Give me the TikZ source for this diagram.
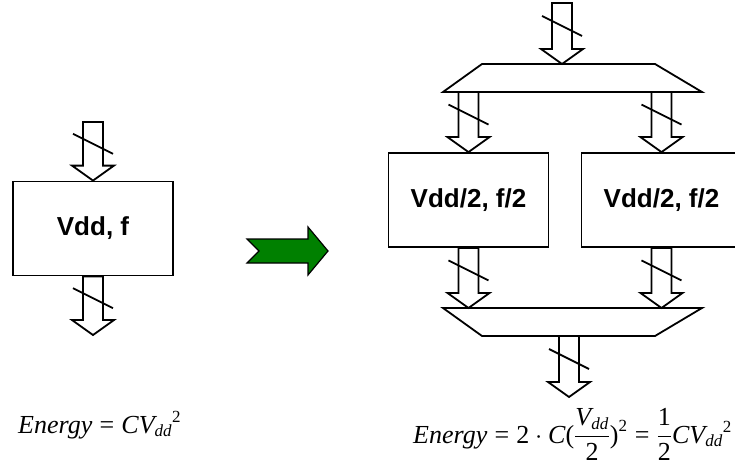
\RequirePackage{fix-cm}
\documentclass[tikz,border=0pt]{standalone}
\usepackage{amsmath}
\usepackage{fontspec}
\setmainfont{Liberation Serif}
\newfontfamily\arialfont{Liberation Sans}
\usetikzlibrary{calc}
\newcommand{\tx}[1]{\hbox{\fontsize{26}{31}\selectfont\itshape #1}}
\newcommand{\rx}[1]{\hbox{\fontsize{26}{31}\selectfont #1}}
\newcommand{\sx}[1]{\hbox{\fontsize{17}{20}\selectfont\itshape #1}}
\newcommand{\srx}[1]{\hbox{\fontsize{17}{20}\selectfont #1}}
\newcommand{\busarrow}[2]{%
  \draw[bus] ($(#1)+(-10,0)$) -- ($(#2)+(-10,-15)$) -- ($(#2)+(-21,-15)$) -- (#2)
    -- ($(#2)+(21,-15)$) -- ($(#2)+(10,-15)$) -- ($(#1)+(10,0)$) -- cycle;
  \draw[bus] ($(#1)!0.5!(#2)+(-20,-17.5)$) -- ++(40,20);}
\begin{document}
\begin{tikzpicture}[x=1pt, y=-1pt,
  block/.style={draw, line width=1.8pt, minimum width=160pt, minimum height=94pt,
    font=\arialfont\bfseries\fontsize{26}{31}\selectfont},
  bus/.style={draw, line width=1.8pt},
  eq/.style={anchor=base west, inner sep=0pt, font=\fontsize{26}{31}\selectfont}]
  \useasboundingbox (0,0) rectangle (735,465);
  \node[block] (core) at (93,228.5) {Vdd, f};
  \coordinate (core-in) at (93,122);
  \coordinate (core-out) at (93,335);
  \busarrow{core-in}{core.north}
  \busarrow{core.south}{core-out}
  \node[eq] (energy1) at (18,433) {$\tx{Energy}\mathrel{\rx{=}}{\tx{CV}_{\sx{dd}}}^{\srx{2}}$};
  \draw[fill=green!50!black, line width=1.2pt] (247,239) -- (308,239) -- (308,227) -- (328,251)
    -- (308,275) -- (308,263) -- (247,263) -- (259,251) -- cycle;
  \node[block] (half1) at (468.5,200) {Vdd/2, f/2};
  \node[block] (half2) at (661.5,200) {Vdd/2, f/2};
  \draw[bus] (482,64) -- (655,64) -- (702,92) -- (443,92) -- cycle;
  \coordinate (split-in) at (562,64);
  \coordinate (split-a) at (468.5,92);
  \coordinate (split-b) at (661.5,92);
  \draw[bus] (443,308) -- (702,308) -- (655,336) -- (482,336) -- cycle;
  \coordinate (merge-a) at (468.5,308);
  \coordinate (merge-b) at (661.5,308);
  \coordinate (merge-out) at (569,336);
  \coordinate (top-in) at (562,3);
  \coordinate (bottom-out) at (569,397);
  \busarrow{top-in}{split-in}
  \busarrow{split-a}{half1.north}
  \busarrow{split-b}{half2.north}
  \busarrow{half1.south}{merge-a}
  \busarrow{half2.south}{merge-b}
  \busarrow{merge-out}{bottom-out}
  \node[eq] (energy2) at (413,443) {$\tx{Energy}\mathrel{\rx{=}}\rx{2}\cdot\tx{C}\rx{(}\dfrac{\tx{V}_{\sx{dd}}}{\rx{2}}\rx{)}^{\srx{2}}\mathrel{\rx{=}}\dfrac{\rx{1}}{\rx{2}}{\tx{CV}_{\sx{dd}}}^{\srx{2}}$};
\end{tikzpicture}
\end{document}
